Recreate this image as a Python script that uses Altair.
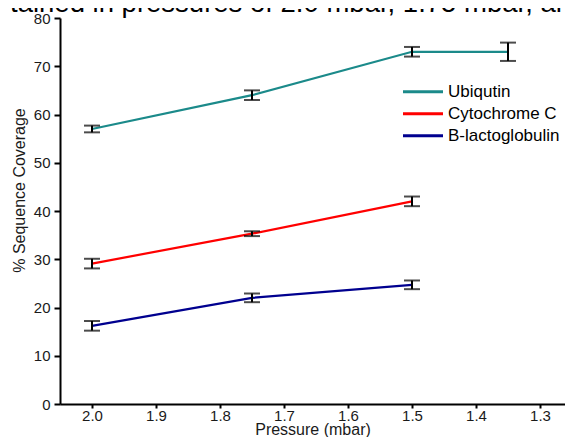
import altair as alt
import pandas as pd

# ---- data ----
pressure = [2.0, 1.75, 1.5, 1.35]
ubiquitin = [57.0, 64.0, 73.0, 73.0]
ubiquitin_err = [0.7, 1.0, 1.0, 1.9]
cytochrome = [29.1, 35.3, 42.0]
cytochrome_err = [1.0, 0.5, 1.0]
blg = [16.2, 22.0, 24.7]
blg_err = [1.0, 0.9, 0.9]

series_names = ["Ubiqutin", "Cytochrome C", "B-lactoglobulin"]
series_colors = ["#1b8a8a", "#ff0000", "#00008f"]

x_major = [2.0, 1.9, 1.8, 1.7, 1.6, 1.5, 1.4, 1.3]
x_ticks = [2.0, 1.95, 1.9, 1.85, 1.8, 1.75, 1.7, 1.65, 1.6, 1.55, 1.5, 1.45, 1.4, 1.35, 1.3]
y_ticks = [0, 5, 10, 15, 20, 25, 30, 35, 40, 45, 50, 55, 60, 65, 70, 75, 80]
top_text = "tained in pressures of 2.0 mbar, 1.75 mbar, and"

rows = []
for name, vals, errs in [
    (series_names[0], ubiquitin, ubiquitin_err),
    (series_names[1], cytochrome, cytochrome_err),
    (series_names[2], blg, blg_err),
]:
    for p, v, e in zip(pressure, vals, errs):
        rows.append({"series": name, "pressure": p, "coverage": v,
                     "lo": v - e, "hi": v + e})
df = pd.DataFrame(rows)

FONT = "Liberation Sans"
major_test = "indexof([" + ",".join(str(v) for v in x_major) + "], datum.value) >= 0"

x_enc = alt.X(
    "pressure:Q",
    scale=alt.Scale(domain=[1.2609, 2.05], reverse=True, nice=False, zero=False),
    axis=alt.Axis(
        values=x_ticks,
        labelExpr=major_test + " ? format(datum.value, '.1f') : ''",
        tickSize={"condition": {"test": major_test, "value": 4}, "value": 2},
        labelPadding=0,
        labelFontSize=15,
        labelOverlap=False,
        labelFlush=False,
        title="Pressure (mbar)",
        titleFontSize=16,
        titleFontWeight="normal",
        titleBaseline="alphabetic",
        titleY=30,
        grid=False,
    ),
)

y_scale = alt.Scale(domain=[0, 80], nice=False)
y_axis = alt.Axis(
    values=y_ticks,
    labelExpr="datum.value % 10 === 0 ? datum.label : ''",
    tickSize={"condition": {"test": "datum.value % 10 === 0", "value": 6}, "value": 3},
    labelPadding=4,
    labelFontSize=15,
    labelOverlap=False,
    labelFlush=False,
    title="% Sequence Coverage",
    titleFontSize=16,
    titleFontWeight="normal",
    titleX=-33,
    titleY=172,
    grid=False,
)

color_enc = alt.Color(
    "series:N",
    scale=alt.Scale(domain=series_names, range=series_colors),
    legend=alt.Legend(
        title=None,
        orient="none",
        legendX=341.5,
        legendY=63,
        symbolType="stroke",
        symbolSize=1600,
        symbolStrokeWidth=3,
        clipHeight=21.5,
        rowPadding=0,
        labelOffset=3.5,
        labelFontSize=17,
        labelFont=FONT,
        labelColor="black",
        padding=0,
    ),
)

base = alt.Chart(df)

lines = base.mark_line(strokeWidth=2.2).encode(
    x=x_enc,
    y=alt.Y("coverage:Q", scale=y_scale, axis=y_axis),
    color=color_enc,
)

bars = base.mark_rule(color="black", strokeWidth=2).encode(
    x="pressure:Q", y="lo:Q", y2="hi:Q"
)
caps_lo = base.mark_tick(orient="horizontal", size=16, thickness=2, color="black").encode(
    x="pressure:Q", y="lo:Q"
)
caps_hi = base.mark_tick(orient="horizontal", size=16, thickness=2, color="black").encode(
    x="pressure:Q", y="hi:Q"
)

header = alt.Chart(pd.DataFrame({"t": [top_text]})).mark_text(
    align="left", baseline="alphabetic", fontSize=27.5, font=FONT, color="black"
).encode(x=alt.value(-50), y=alt.value(-6), text="t:N")

chart = alt.layer(lines, bars, caps_lo, caps_hi, header).properties(
    width=505,
    height=386,
    autosize=alt.AutoSizeParams(type="none"),
    padding={"left": 52, "top": 10, "right": 0, "bottom": 33},
    background="white",
).configure_view(stroke=None).configure_axis(
    domainColor="black",
    domainWidth=2,
    tickColor="black",
    tickWidth=2,
    labelFont=FONT,
    titleFont=FONT,
    labelColor="#1a1a1a",
    titleColor="#1a1a1a",
)

chart.save("out.html", embed_options={"renderer": "svg", "actions": False})
